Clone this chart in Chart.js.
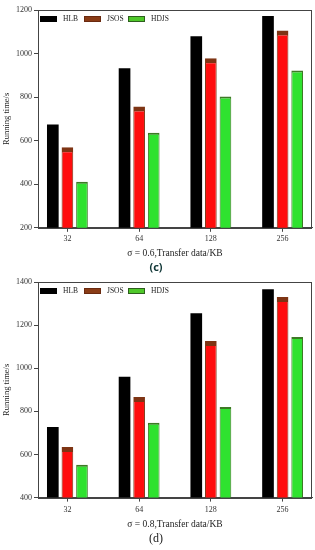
<!DOCTYPE html>
<html>
<head>
<meta charset="utf-8">
<script src="https://cdn.jsdelivr.net/npm/chart.js@4.4.0/dist/chart.umd.min.js"></script>
<style>
  html, body { margin: 0; padding: 0; background: #fff; }
  .panel { position: relative; width: 315px; }
  #panelC { height: 274px; }
  #panelD { height: 276px; }
</style>
</head>
<body>
<div class="panel" id="panelC"><canvas id="chartC"></canvas></div>
<div class="panel" id="panelD"><canvas id="chartD"></canvas></div>
<script>
// --- data ---
const categories = ['32', '64', '128', '256'];
const seriesNames = ['HLB', 'JSOS', 'HDJS'];

// panel (c), sigma = 0.6
const hlbC = [674, 933, 1080, 1172];
const jsosC = [570, 757, 979, 1106];
const hdjsC = [412, 636, 803, 922];
const yTicksC = [200, 400, 600, 800, 1000, 1200];

// panel (d), sigma = 0.8
const hlbD = [728, 960, 1255, 1366];
const jsosD = [635, 867, 1126, 1330];
const hdjsD = [552, 747, 820, 1145];
const yTicksD = [400, 600, 800, 1000, 1200, 1400];

// --- styles ---
const barFill = ['#000000', '#ff0d0d', '#2fe22f'];
const barEdge = ['#000000', '#7e3414', '#3d7a25'];
const barEdgeWidth = [
  0,
  { top: 5, left: 1, right: 1, bottom: 0 },
  { top: 2, left: 1, right: 1, bottom: 0 }
];
const legendFill = ['#000000', '#8a3c16', '#4fc82a'];
const legendEdge = ['#000000', '#6a2a10', '#2e5e1e'];
const serif = "'Liberation Serif', 'DejaVu Serif', serif";

// box around the plot
const boxPlugin = {
  id: 'box',
  afterDraw(chart) {
    const { ctx, chartArea: a } = chart;
    ctx.save();
    ctx.strokeStyle = '#444';
    ctx.lineWidth = 1;
    ctx.strokeRect(Math.round(a.left) + 0.5, Math.round(a.top) + 0.5,
      Math.round(a.right - a.left) - 1, Math.round(a.bottom - a.top));
    ctx.restore();
  }
};

// legend drawn inside the plot, top left
const innerLegend = {
  id: 'innerLegend',
  afterDraw(chart) {
    const { ctx, chartArea: a } = chart;
    ctx.save();
    ctx.font = '7.5px ' + serif;
    ctx.textBaseline = 'middle';
    chart.data.datasets.forEach((ds, i) => {
      const x = a.left + 2 + i * 44;
      const y = a.top + 9;
      ctx.fillStyle = legendFill[i];
      ctx.fillRect(x, y - 3, 17, 6);
      ctx.strokeStyle = legendEdge[i];
      ctx.lineWidth = 1;
      ctx.strokeRect(x + 0.5, y - 2.5, 16, 5);
      ctx.fillStyle = '#222';
      ctx.fillText(ds.label, x + 23, y + 0.5);
    });
    ctx.restore();
  }
};

function makeChart(id, series, yTicks, xTitle, panel) {
  const ctx = document.getElementById(id).getContext('2d');
  return new Chart(ctx, {
    type: 'bar',
    data: {
      datasets: series.map((vals, i) => ({
        label: seriesNames[i],
        data: vals.map((v, k) => ({ x: k, y: v })),
        backgroundColor: barFill[i],
        borderColor: barEdge[i],
        borderWidth: barEdgeWidth[i],
        borderSkipped: false,
        categoryPercentage: 0.61,
        barPercentage: 0.8
      }))
    },
    options: {
      responsive: true,
      maintainAspectRatio: false,
      animation: false,
      layout: { padding: { top: panel.topPad, right: 3, left: 0, bottom: 0 } },
      plugins: {
        legend: { display: false },
        tooltip: { enabled: false },
        title: {
          display: true,
          position: 'bottom',
          text: panel.text,
          color: panel.color,
          font: panel.font,
          padding: panel.padding
        }
      },
      scales: {
        x: {
          type: 'linear',
          offset: false,
          min: -0.41,
          max: 3.41,
          afterBuildTicks(scale) {
            scale.ticks = categories.map((c, k) => ({ value: k }));
          },
          ticks: {
            callback: (v) => categories[v],
            color: '#333',
            font: { family: serif, size: 8 },
            padding: panel.tickPad,
            maxRotation: 0,
            autoSkip: false
          },
          grid: { offset: false, drawOnChartArea: false, drawTicks: true, tickLength: 4, color: '#444' },
          border: { color: '#444' },
          title: {
            display: true,
            text: xTitle,
            color: '#222',
            font: { family: serif, size: 9.5 },
            padding: { top: panel.xTitlePad, bottom: 0 }
          }
        },
        y: {
          min: yTicks[0],
          max: yTicks[yTicks.length - 1],
          afterBuildTicks(scale) {
            scale.ticks = yTicks.map(v => ({ value: v }));
          },
          afterFit(scale) { scale.width = 38; },
          ticks: {
            callback: (v) => String(v),
            color: '#333',
            font: { family: serif, size: 8 },
            padding: 2
          },
          grid: { drawOnChartArea: false, drawTicks: true, tickLength: 4, color: '#444' },
          border: { color: '#444' },
          title: {
            display: true,
            text: 'Running time/s',
            color: '#222',
            font: { family: serif, size: 8.5 },
            padding: { top: 2, bottom: 0 }
          }
        }
      }
    },
    plugins: [boxPlugin, innerLegend]
  });
}

makeChart('chartC', [hlbC, jsosC, hdjsC], yTicksC, '\u03c3 = 0.6,Transfer data/KB', {
  text: '(c)',
  color: '#123838',
  font: { family: "'Noto Sans', sans-serif", size: 11, weight: 'bold' },
  padding: { top: 2, bottom: 0 },
  topPad: 10,
  tickPad: 2,
  xTitlePad: 2
});

makeChart('chartD', [hlbD, jsosD, hdjsD], yTicksD, '\u03c3 = 0.8,Transfer data/KB', {
  text: '(d)',
  color: '#222',
  font: { family: serif, size: 12, weight: 'normal' },
  padding: { top: 1, bottom: 4 },
  topPad: 8,
  tickPad: 4,
  xTitlePad: 0
});
</script>
</body>
</html>
